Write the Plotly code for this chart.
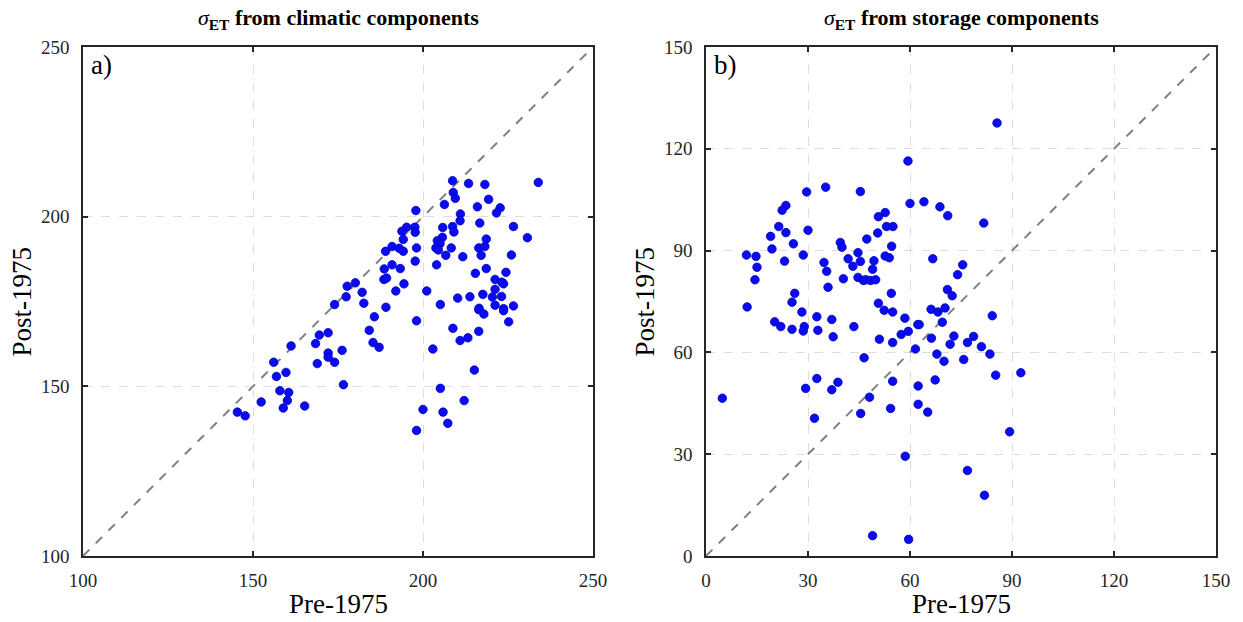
import plotly.graph_objects as go

# Panel a: sigma_ET from climatic components
clim_pre = [189.0, 188.6, 188.5, 177.7, 180.1, 182.1, 177.4, 174.0, 182.6, 189.1,
            208.7, 213.4, 218.2, 233.9, 208.9, 209.5, 206.3, 219.3, 216.0, 222.7,
            221.6, 197.9, 211.0, 210.9, 216.7, 226.6, 230.7, 195.2, 197.6, 193.8,
            197.7, 205.8, 208.7, 209.1, 194.2, 205.7, 204.2, 205.0, 203.8, 204.5,
            208.3, 218.6, 216.4, 218.2, 217.1, 206.7, 211.7, 226.0, 190.9, 193.0,
            194.2, 198.1, 197.7, 204.0, 190.9, 193.3, 215.4, 218.6, 224.4, 189.3,
            194.4, 221.2, 223.2, 223.7, 192.0, 201.1, 221.2, 217.6, 220.4, 223.1,
            210.2, 213.8, 205.1, 221.2, 226.6, 216.5, 223.7, 185.7, 184.2, 185.3,
            187.1, 169.5, 172.1, 168.4, 161.2, 172.1, 172.1, 176.2, 174.0, 168.9,
            156.1, 159.7, 156.9, 176.6, 157.9, 160.5, 160.1, 152.4, 158.9, 165.2,
            145.4, 147.7, 216.4, 217.9, 223.7, 225.2, 198.1, 208.8, 216.4, 213.2,
            210.9, 202.9, 215.1, 205.1, 212.1, 200.0, 205.9, 207.3, 198.1]
clim_post = [189.8, 184.6, 181.5, 179.5, 180.5, 177.7, 176.4, 174.1, 174.5, 173.3,
             210.6, 209.8, 209.5, 210.1, 207.1, 205.4, 203.6, 205.1, 202.9, 202.6,
             201.1, 201.8, 200.8, 198.8, 198.1, 197.1, 193.8, 196.9, 196.9, 195.7,
             195.4, 196.8, 197.1, 195.5, 193.3, 193.9, 192.9, 192.0, 190.8, 190.2,
             190.8, 193.4, 190.8, 191.2, 188.6, 188.6, 188.2, 188.7, 191.2, 190.7,
             189.8, 190.8, 186.9, 185.8, 185.8, 184.7, 183.3, 184.7, 183.6, 181.9,
             180.2, 181.5, 180.7, 180.2, 178.1, 178.1, 178.6, 177.1, 176.3, 176.5,
             176.0, 176.4, 174.1, 173.9, 173.7, 173.0, 172.9, 170.5, 166.5, 162.9,
             161.5, 165.1, 165.8, 162.6, 161.9, 159.8, 158.6, 160.6, 157.1, 156.7,
             157.1, 154.1, 152.9, 150.5, 148.7, 148.2, 145.8, 145.4, 143.6, 144.2,
             142.4, 141.3, 172.6, 171.3, 172.3, 169.0, 169.3, 167.1, 166.2, 164.3,
             163.5, 161.0, 154.8, 149.4, 145.8, 143.2, 142.4, 139.1, 137.0]

# Panel b: sigma_ET from storage components
stor_pre = [29.6, 35.2, 45.4, 23.5, 22.4, 50.7, 21.4, 19.0, 23.5, 30.0,
            47.3, 50.5, 19.4, 25.7, 39.5, 40.0, 11.9, 14.7, 28.6, 44.7,
            15.0, 23.1, 34.7, 35.5, 41.8, 45.4, 43.2, 49.4, 49.0, 14.4,
            40.4, 44.7, 46.3, 47.0, 48.4, 49.9, 35.9, 26.1, 25.3, 12.1,
            50.7, 28.2, 32.6, 37.0, 20.2, 22.0, 25.3, 28.9, 28.6, 32.9,
            37.4, 43.5, 51.0, 46.5, 32.6, 38.8, 29.3, 37.0, 4.8, 48.1,
            31.9, 45.5, 58.6, 89.3, 76.9, 81.9, 49.0, 59.6, 85.6, 59.4,
            60.0, 64.1, 68.8, 71.1, 81.7, 52.7, 53.1, 55.0, 54.6, 52.7,
            53.9, 66.7, 75.5, 74.0, 54.5, 52.4, 54.9, 58.5, 62.3, 62.7,
            71.0, 72.4, 66.2, 68.2, 70.3, 69.5, 84.2, 54.9, 57.4, 59.5,
            66.3, 61.6, 72.9, 71.8, 76.9, 78.7, 81.0, 83.5, 67.9, 70.0,
            75.8, 85.2, 92.6, 54.9, 62.4, 67.4, 54.3, 62.4, 65.2]
stor_post = [107.3, 108.7, 107.4, 103.3, 101.9, 100.0, 97.1, 94.2, 95.3, 96.0,
             93.4, 95.2, 90.5, 92.0, 92.4, 91.0, 88.7, 88.3, 88.7, 89.4,
             85.1, 86.9, 86.5, 83.9, 87.6, 86.8, 85.4, 87.0, 84.5, 81.4,
             81.7, 82.1, 81.2, 81.4, 81.2, 81.4, 79.2, 77.4, 74.8, 73.4,
             74.5, 71.9, 70.5, 69.7, 69.0, 67.6, 66.8, 67.6, 66.3, 66.5,
             64.6, 67.6, 63.9, 58.4, 52.3, 51.2, 49.4, 49.0, 46.5, 46.8,
             40.6, 42.0, 29.4, 36.6, 25.2, 17.9, 6.0, 4.9, 127.6, 116.4,
             103.9, 104.4, 102.9, 100.3, 98.1, 101.2, 97.1, 97.1, 91.3, 88.4,
             87.9, 87.6, 85.8, 82.9, 77.4, 72.4, 71.9, 70.1, 68.2, 68.2,
             78.5, 76.7, 72.7, 71.9, 73.1, 68.9, 70.8, 62.9, 65.3, 66.2,
             64.2, 61.0, 64.8, 62.4, 62.9, 64.7, 61.7, 59.5, 59.5, 57.4,
             57.9, 53.3, 54.0, 51.5, 50.1, 51.9, 43.5, 44.7, 42.4]

range_a = [100, 250]
range_b = [0, 150]
ticks_a = [100, 150, 200, 250]
ticks_b = [0, 30, 60, 90, 120, 150]

W, H = 1243, 622
xa_dom = [83 / W, 593 / W]
xb_dom = [706 / W, 1216 / W]
y_dom = [66 / H, 575 / H]

FONT = "Liberation Serif"
AX = "#262626"
marker = dict(size=8.5, color="rgb(10,10,245)", line=dict(width=0.8, color="rgb(0,0,190)"))

fig = go.Figure()
fig.add_trace(go.Scatter(x=range_a, y=range_a, mode="lines",
                         line=dict(color="#808080", width=2, dash="dash"),
                         xaxis="x", yaxis="y", showlegend=False, hoverinfo="skip"))
fig.add_trace(go.Scatter(x=clim_pre, y=clim_post, mode="markers", marker=marker,
                         xaxis="x", yaxis="y", showlegend=False))
fig.add_trace(go.Scatter(x=range_b, y=range_b, mode="lines",
                         line=dict(color="#808080", width=2, dash="dash"),
                         xaxis="x2", yaxis="y2", showlegend=False, hoverinfo="skip"))
fig.add_trace(go.Scatter(x=stor_pre, y=stor_post, mode="markers", marker=marker,
                         xaxis="x2", yaxis="y2", showlegend=False))

def ax(dom, rng, ticks, anchor, standoff):
    return dict(domain=dom, range=rng, tickvals=ticks, anchor=anchor, automargin=False,
                showline=True, linecolor=AX, linewidth=1.5, mirror="ticks",
                ticks="inside", ticklen=5, tickwidth=1.5, tickcolor=AX,
                ticklabelstandoff=standoff,
                showgrid=True, gridcolor="#dcdcdc", gridwidth=1, griddash="dash",
                zeroline=False, tickfont=dict(family=FONT, size=19, color=AX))

fig.update_layout(
    width=W, height=H,
    margin=dict(l=0, r=0, t=0, b=0),
    paper_bgcolor="white", plot_bgcolor="white",
    xaxis=ax(xa_dom, range_a, ticks_a, "y", 6),
    yaxis=ax(y_dom, range_a, ticks_a, "x", 8),
    xaxis2=ax(xb_dom, range_b, ticks_b, "y2", 6),
    yaxis2=ax(y_dom, range_b, ticks_b, "x2", 8),
)

annos = []
for dom, title, lab in [(xa_dom, "from climatic components", "a)"),
                        (xb_dom, "from storage components", "b)")]:
    cx = (dom[0] + dom[1]) / 2
    annos.append(dict(x=cx, y=1 - 19 / H, xref="paper", yref="paper",
                      text="<i>σ</i><sub><b>ET</b></sub> <b>" + title + "</b>",
                      showarrow=False, xanchor="center", yanchor="middle",
                      font=dict(family=FONT, size=22, color="black")))
    annos.append(dict(x=cx, y=1 - 604 / H, xref="paper", yref="paper",
                      text="Pre-1975", showarrow=False, xanchor="center", yanchor="middle",
                      font=dict(family=FONT, size=27, color="black")))
    annos.append(dict(x=dom[0] + 6 / W, y=1 - 65 / H, xref="paper", yref="paper",
                      text=lab, showarrow=False, xanchor="left", yanchor="middle",
                      font=dict(family=FONT, size=27, color="black")))
    annos.append(dict(x=dom[0] - 62 / W, y=(y_dom[0] + y_dom[1]) / 2, xref="paper", yref="paper",
                      text="Post-1975", showarrow=False, textangle=-90,
                      xanchor="center", yanchor="middle",
                      font=dict(family=FONT, size=27, color="black")))
fig.update_layout(annotations=annos)

fig.write_html("out.html")
